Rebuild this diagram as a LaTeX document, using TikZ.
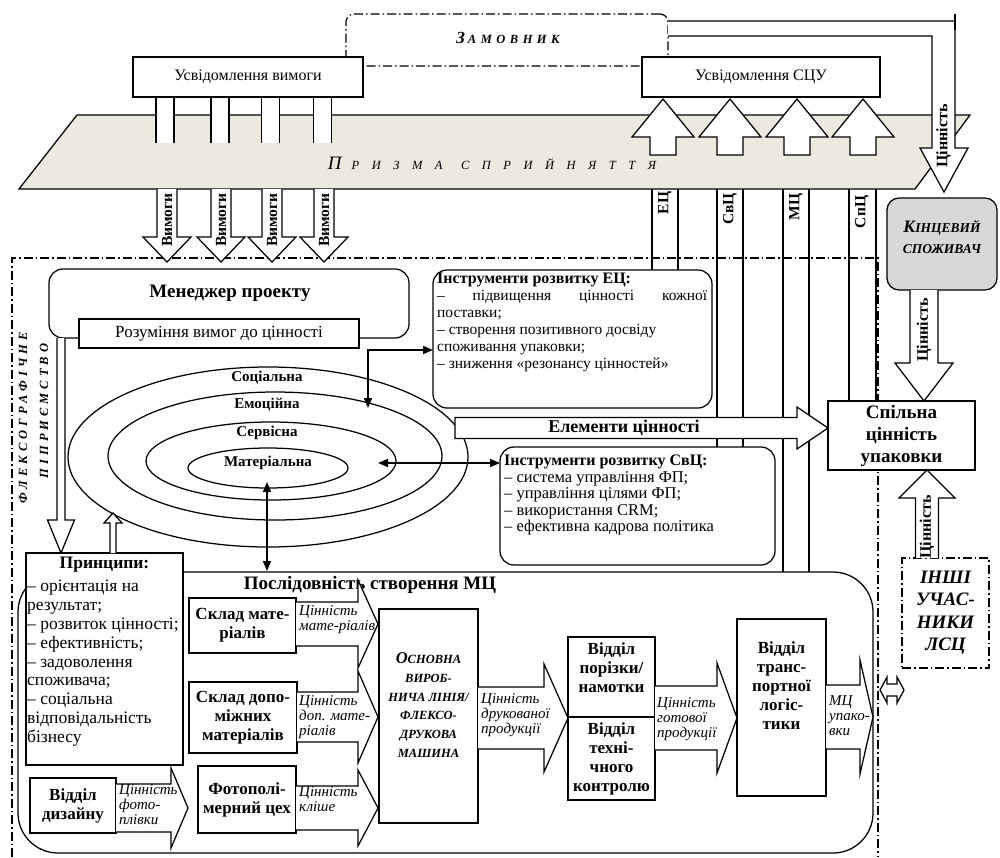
\documentclass[tikz,border=0pt]{standalone}
\usepackage{fontspec}
\setmainfont{Liberation Serif}
\usetikzlibrary{arrows.meta,shapes.geometric}
\ExplSyntaxOn
\NewDocumentCommand\spreadtext{mm}{\tl_map_inline:nn {#2}{##1\hspace{#1}}}
\ExplSyntaxOff
\definecolor{prismc}{RGB}{236,233,222}
\definecolor{greyc}{RGB}{216,216,216}
\tikzset{
 lw/.style={line width=1.25pt},
 box/.style={draw, line width=1.25pt, fill=white, inner sep=0pt, align=center},
 rbox/.style={box, rounded corners=14pt},
 ddot/.style={line width=1.2pt, dash pattern=on 9pt off 3pt on 1.5pt off 3pt},
 barrow/.style={draw, line width=1.25pt, fill=white, line join=miter},
 tip2/.style={line width=1.5pt, {Triangle[length=10pt,width=8pt]}-{Triangle[length=10pt,width=8pt]}},
 rotlab/.style={rotate=90, inner sep=0pt, font=\fontsize{15.5}{15.5}\selectfont\bfseries},
 ital/.style={inner sep=0pt, align=left, anchor=west, font=\fontsize{15}{15}\selectfont\itshape},
 bhead/.style={font=\fontsize{17}{19}\selectfont\bfseries},
 elab/.style={inner sep=0pt, font=\fontsize{15}{15}\selectfont\bfseries},
 ell/.style={draw, line width=1.25pt, ellipse, inner sep=0pt},
}
\newcommand\VArrow[7]{\draw[barrow] ({#1-#2},#4) -- ({#1-#2},#5) -- ({#1-#3},#5) -- (#1,#6) -- ({#1+#3},#5) -- ({#1+#2},#5) -- ({#1+#2},#4) #7;}
\newcommand\HArrow[7]{\draw[barrow] (#4,{#1-#2}) -- (#5,{#1-#2}) -- (#5,{#1-#3}) -- (#6,#1) -- (#5,{#1+#3}) -- (#5,{#1+#2}) -- (#4,{#1+#2}) #7;}
\begin{document}
\begin{tikzpicture}[x=1pt,y=-1pt]
\useasboundingbox (0,0) rectangle (1000,857);
% customer
\node[draw, ddot, rounded corners=8pt, minimum width=322pt, minimum height=52pt, inner sep=0pt] (zam) at (507,40) {};
\node[inner sep=0pt, font=\bfseries\itshape] (zamt) at (508,38) {{\fontsize{17}{17}\selectfont З}\hspace{3pt}{\fontsize{12.5}{13}\selectfont\spreadtext{4.5pt}{АМОВНИК}}};
% prism
\draw[lw, fill=prismc] (77,115) -- (970,115) -- (915,189) -- (19,189) -- cycle;
\node[inner sep=0pt, font=\itshape] (prt) at (492,163) {{\fontsize{19}{19}\selectfont П}\hspace{10pt}{\fontsize{12.5}{13}\selectfont\spreadtext{12.5pt}{РИЗМА}\hspace{6pt}\spreadtext{12.5pt}{СПРИЙНЯТТЯ}}};
% pillars
\foreach \c in {165,220,270.5,322.5} {\fill[white] (\c-9,97) rectangle (\c+9,143); \draw[lw] (\c-9,97) -- (\c-9,143) (\c+9,97) -- (\c+9,143);}
% up arrows
\foreach \c in {663,730,797,863} {\VArrow{\c}{13}{31}{155}{137}{99}{-- cycle}}
% awareness boxes
\node[box, minimum width=230pt, minimum height=40pt, font=\fontsize{16}{16}\selectfont] (uvym) at (248,77) {Усвідомлення вимоги};
\node[box, minimum width=238pt, minimum height=40pt, font=\fontsize{16}{16}\selectfont] (uscu) at (761,77) {Усвідомлення СЦУ};
% top value arrow
\draw[barrow] (668,36) -- (932,36) -- (932,148) -- (920,148) -- (944,192) -- (968,148) -- (955,148) -- (955,21) -- (668,21);
\draw[line width=2.2pt] (955,14) -- (955,30);
\node[rotlab, font=\fontsize{16}{16}\selectfont\bfseries] (tsin1) at (943.5,136) {Цінність};
% channels
\draw[lw] (652,189) -- (652,270) (678,189) -- (678,270)
 (717,189) -- (717,447) (743,189) -- (743,447)
 (783,189) -- (783,572) (809,189) -- (809,572)
 (849,189) -- (849,401) (876,189) -- (876,401);
\node[rotlab] (lec) at (665,203) {ЕЦ};
\node[rotlab] (lsvc) at (730,209) {СвЦ};
\node[rotlab] (lmc) at (796,207) {МЦ};
\node[rotlab] (lspc) at (862,212) {СпЦ};
% enterprise boundary
\draw[ddot] (12,857) -- (12,258) -- (878,258) -- (878,857);
% requirement arrows
\foreach \c in {167,221,272,324} {\VArrow{\c}{10}{24}{189}{237}{262}{} \node[rotlab] (vym\c) at (\c,220) {Вимоги};}
% manager
\node[rbox, minimum width=360pt, minimum height=69pt] (men) at (229,303.5) {};
\node[inner sep=0pt, font=\fontsize{19}{19}\selectfont\bfseries] (ment) at (230,293) {Менеджер проекту};
\node[box, minimum width=280pt, minimum height=29pt, font=\fontsize{17}{17}\selectfont] (rozum) at (219,333.5) {Розуміння вимог до цінності};
\VArrow{61}{4}{13.5}{338}{520}{553}{}
% ellipses
\node[ell, minimum width=400pt, minimum height=180pt] (soc) at (268,457) {};
\node[ell, minimum width=334pt, minimum height=128pt] (emo) at (275,456) {};
\node[ell, minimum width=250pt, minimum height=78pt] (serv) at (271,461) {};
\node[ell, minimum width=160pt, minimum height=40pt] (mat) at (268,468) {};
\node[elab] (socl) at (267,378) {Соціальна};
\node[elab] (emol) at (267,405) {Емоційна};
\node[elab] (servl) at (267,433) {Сервісна};
\node[elab] (matl) at (268,463) {Матеріальна};
% EC tools
\node[rbox, minimum width=279pt, minimum height=138pt] (ec) at (572.5,339) {};
\node[anchor=north west, align=left, inner sep=0pt, font=\fontsize{15.5}{17}\selectfont] (ect) at (437,273) {{\fontsize{16}{17}\selectfont\bfseries Інструменти розвитку ЕЦ:}\\\makebox[270pt][s]{– підвищення цінності кожної}\\поставки;\\– створення позитивного досвіду\\споживання упаковки;\\– зниження «резонансу цінностей»};
% SvC tools
\node[rbox, minimum width=275pt, minimum height=118pt] (svc) at (637.5,506) {};
\node[anchor=north west, align=left, inner sep=0pt, font=\fontsize{16.5}{16.4}\selectfont] (svct) at (504,455) {{\fontsize{16}{16.4}\selectfont\bfseries Інструменти розвитку СвЦ:}\\– система управління ФП;\\– управління цілями ФП;\\– використання CRM;\\– ефективна кадрова політика};
% value elements arrow
\HArrow{428}{10.5}{21}{455}{797}{828}{-- cycle}
\node[inner sep=0pt, font=\fontsize{18}{18}\selectfont\bfseries] (elt) at (624,428) {Елементи цінності};
% creation sequence
\node[draw, lw, fill=white, rounded corners=40pt, minimum width=855pt, minimum height=281pt, inner sep=0pt] (posl) at (445.5,712.5) {};
\node[inner sep=0pt, font=\fontsize{19}{19}\selectfont\bfseries] (poslt) at (370,585) {Послідовність створення МЦ};
% thin double arrows
\coordinate (e1) at (368,408); \coordinate (e2) at (433,350);
\draw[tip2] (e1) |- (e2);
\coordinate (m1) at (378,463); \coordinate (m2) at (500,463);
\draw[tip2] (m1) -- (m2);
\coordinate (v1) at (267,482); \coordinate (v2) at (267,571);
\draw[tip2] (v1) -- (v2);
% principles
\node[box, minimum width=157pt, minimum height=212pt] (princ) at (104.5,659) {};
\node[inner sep=0pt, font=\fontsize{17.5}{17.5}\selectfont\bfseries] (princh) at (104.5,565) {Принципи:};
\node[anchor=north west, align=left, inner sep=0pt, font=\fontsize{17.5}{18.8}\selectfont] (princt) at (27,580) {– орієнтація на\\результат;\\– розвиток цінності;\\– ефективність;\\– задоволення\\споживача;\\– соціальна\\відповідальність\\бізнесу};
\VArrow{113}{3}{9}{553}{523}{513}{}
% supply boxes
\node[box, bhead, minimum width=107pt, minimum height=55pt] (skm) at (242.5,625.5) {Склад мате-\\ріалів};
\node[box, bhead, minimum width=108pt, minimum height=71pt] (skd) at (243,717.5) {Склад допо-\\міжних\\матеріалів};
\node[box, bhead, minimum width=98pt, minimum height=67pt] (foto) at (247,799.5) {Фотополі-\\мерний цех};
\node[box, bhead, minimum width=86pt, minimum height=55pt] (diz) at (73,805.5) {Відділ\\дизайну};
\HArrow{624}{22}{44}{296}{358}{378}{}
\HArrow{717}{25}{46}{297}{358}{378}{}
\HArrow{808}{22}{38}{296}{358}{378}{}
\HArrow{808}{24}{40}{116}{171}{188}{}
\node[ital] (l1) at (299,620) {Цінність\\мате-ріалів};
\node[ital] (l2) at (299,717) {Цінність\\доп. мате-\\ріалів};
\node[ital] (l3) at (299,799) {Цінність\\кліше};
\node[ital] (l4) at (119,805) {Цінність\\фото-\\плівки};
% main line
\node[box, minimum width=99pt, minimum height=214pt] (osn) at (428.5,716) {};
\node[inner sep=0pt, align=center, font=\fontsize{12.5}{18.8}\selectfont\bfseries\itshape] (osnt) at (428.5,705) {{\fontsize{16.5}{18.8}\selectfont О}СНОВНА\\ВИРОБ-\\НИЧА ЛІНІЯ/\\ФЛЕКСО-\\ДРУКОВА\\МАШИНА};
\HArrow{718}{31}{54}{478}{544}{568}{}
\node[ital] (l5) at (481,715) {Цінність\\друкованої\\продукції};
% cutting / control
\node[box, minimum width=87pt, minimum height=80pt] (por) at (611.5,677) {};
\node[inner sep=0pt, align=center, bhead] (port) at (611.5,668) {Відділ\\порізки/\\намотки};
\node[box, bhead, minimum width=87pt, minimum height=83pt] (teh) at (611.5,758.5) {Відділ\\техні-\\чного\\контролю};
\HArrow{718}{32}{55}{655}{717}{737}{}
\node[ital] (l6) at (657,719) {Цінність\\готової\\продукції};
% transport
\node[box, minimum width=89pt, minimum height=177pt] (tr) at (781.5,707.5) {};
\node[inner sep=0pt, align=center, bhead] (trt) at (781.5,686) {Відділ\\транс-\\портної\\логіс-\\тики};
\HArrow{717}{32}{57}{826}{860}{873}{}
\node[ital] (l7) at (829,716) {МЦ\\упако-\\вки};
% right side
\node[rbox, fill=greyc, rounded corners=12pt, minimum width=110pt, minimum height=92pt] (kin) at (942,244) {};
\node[inner sep=0pt, align=center, font=\fontsize{13.5}{21}\selectfont\bfseries\itshape] (kint) at (942,237) {{\fontsize{17.5}{21}\selectfont К}ІНЦЕВИЙ\\СПОЖИВАЧ};
\VArrow{924}{14}{29}{290}{363}{401}{}
\node[rotlab, font=\fontsize{16}{16}\selectfont\bfseries] (tsin2) at (924,330) {Цінність};
\node[box, minimum width=147pt, minimum height=69pt, font=\fontsize{19}{22}\selectfont\bfseries] (spil) at (901.5,435.5) {Спільна\\цінність\\упаковки};
\node[draw, ddot, fill=white, minimum width=87pt, minimum height=110pt, inner sep=0pt, align=center, font=\fontsize{19}{22.5}\selectfont\bfseries\itshape] (inshi) at (945.5,613) {ІНШІ\\УЧАС-\\НИКИ\\ЛСЦ};
\VArrow{927}{11.5}{28}{558}{498}{470}{}
\node[rotlab, font=\fontsize{16}{16}\selectfont\bfseries] (tsin3) at (927,527) {Цінність};
\draw[barrow] (880,690) -- (887,677) -- (887,684) -- (897,684) -- (897,677) -- (904,690) -- (897,703) -- (897,696) -- (887,696) -- (887,703) -- cycle;
% enterprise label
\node[rotate=90, inner sep=0pt, font=\fontsize{12.5}{12.5}\selectfont\bfseries\itshape] (flex1) at (23,418) {\spreadtext{4pt}{ФЛЕКСОГРАФІЧНЕ}};
\node[rotate=90, inner sep=0pt, font=\fontsize{12.5}{12.5}\selectfont\bfseries\itshape] (flex2) at (44,411) {\spreadtext{4pt}{ПІПРИЄМСТВО}};
\end{tikzpicture}
\end{document}
